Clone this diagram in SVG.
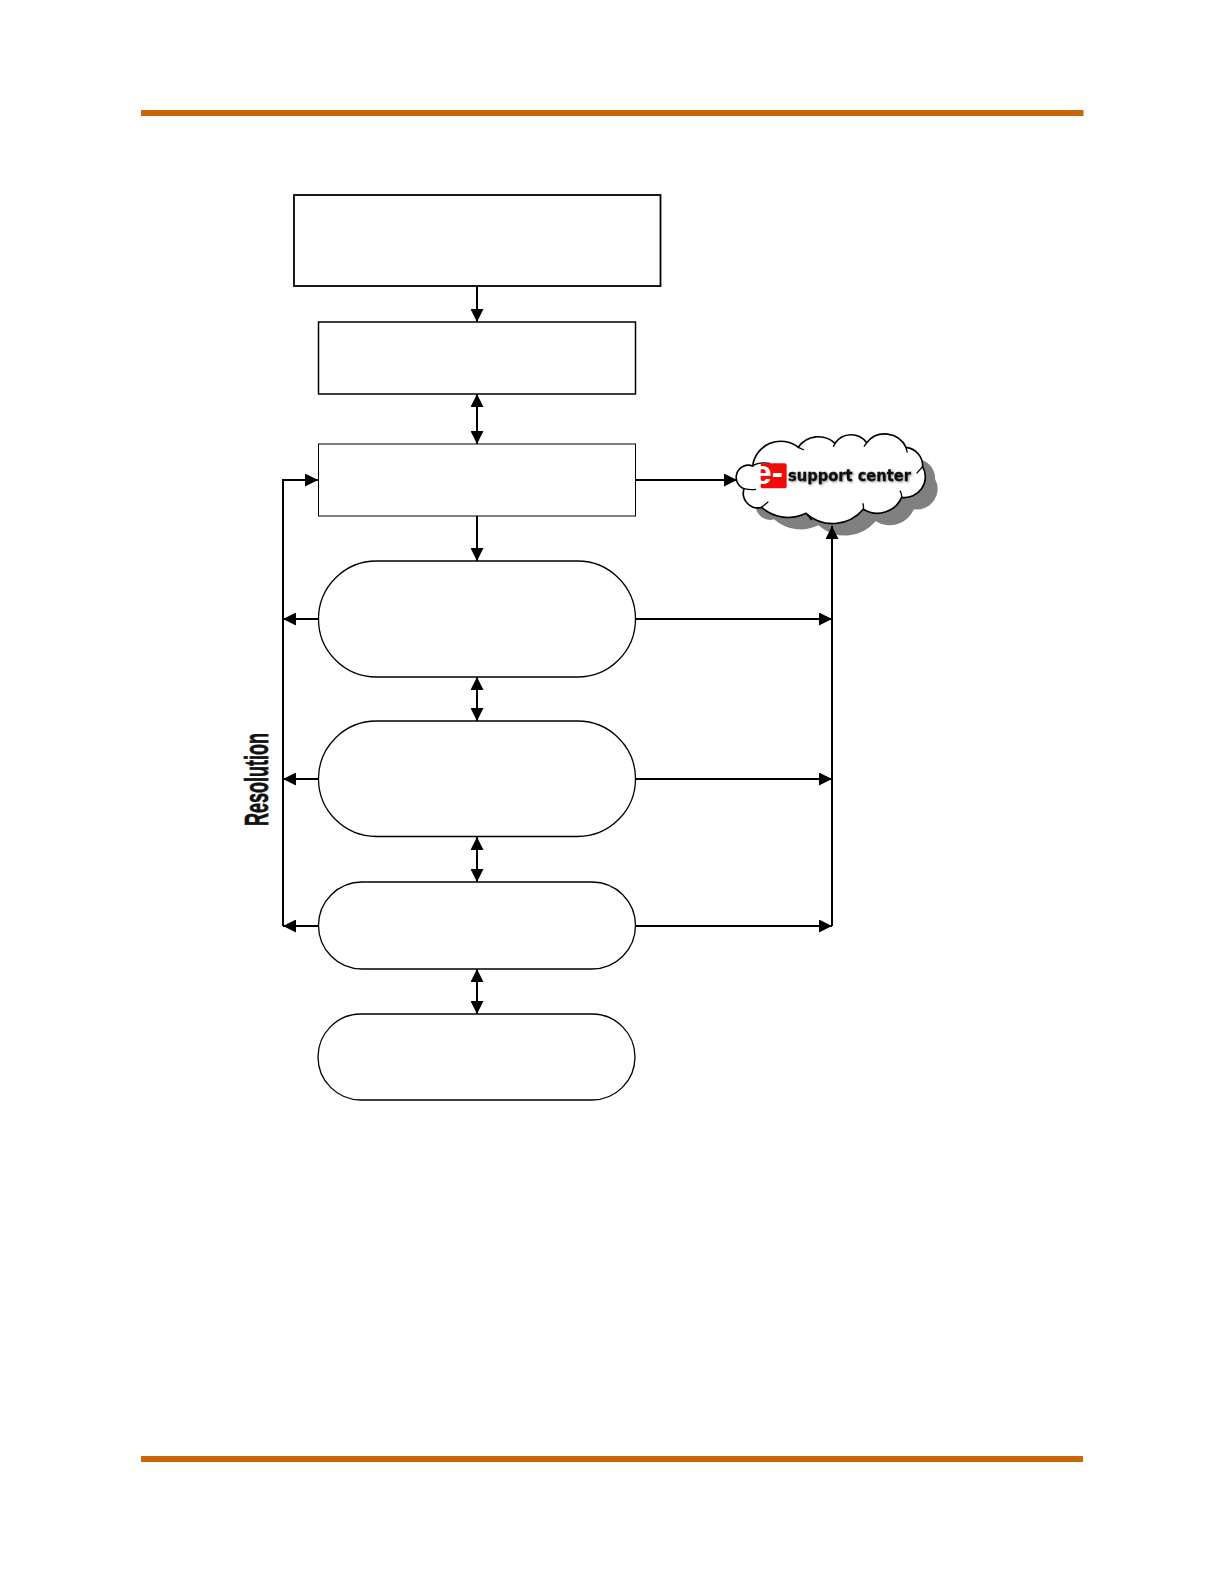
<svg xmlns="http://www.w3.org/2000/svg" width="1224" height="1584" viewBox="0 0 1224 1584">
<style>
.bar{fill:#c8660a}
.n{fill:#fff;stroke:#000}
.c{fill:none;stroke:#000;stroke-width:2}
.a{marker-end:url(#ah)}
.d{marker-start:url(#ah);marker-end:url(#ah)}
</style>
<defs>
<marker id="ah" markerUnits="userSpaceOnUse" markerWidth="13" markerHeight="13" refX="12" refY="6" orient="auto-start-reverse" viewBox="0 0 12 12"><path d="M0 0L12 6L0 12Z" fill="#000"/></marker>
<filter id="ts" x="-10%" y="-30%" width="120%" height="160%"><feDropShadow dx="1" dy="1" stdDeviation="1" flood-color="#000" flood-opacity=".45"/></filter>
<path id="cl" d="M72,206A36,36 0 0 1 98,138A85,85 0 0 1 235,82A73,73 0 0 1 345,70A58,58 0 0 1 440,68A70,70 0 0 1 558,82A56,56 0 0 1 608,140A62,62 0 0 1 545,232A80,80 0 0 1 430,268A120,120 0 0 1 258,280A120,120 0 0 1 125,262A44,44 0 0 1 72,206Z"/>
</defs>
<rect id="bg" width="1224" height="1584" fill="#fff"/>
<rect class="bar" x="141" y="110" width="942.500" height="6"/>
<rect class="bar" x="141" y="1456" width="942" height="6"/>
<g id="box1"><rect class="n" x="294" y="195" width="366.500" height="91" stroke-width="1.800"/></g>
<g id="box2"><rect class="n" x="318.500" y="322" width="317" height="72" stroke-width="1.500"/></g>
<g id="box3"><rect class="n" x="318.500" y="444" width="317" height="72" stroke-width="1"/></g>
<g id="pill1"><rect class="n" x="318.500" y="561" width="317" height="116" rx="58" stroke-width="1.300"/></g>
<g id="pill2"><rect class="n" x="318.500" y="721" width="317" height="115.500" rx="58" stroke-width="1.300"/></g>
<g id="pill3"><rect class="n" x="318.500" y="882" width="317" height="87" rx="43.500" stroke-width="1.300"/></g>
<g id="pill4"><rect class="n" x="318" y="1014" width="317" height="86" rx="43" stroke-width="1.300"/></g>
<g id="cloud">
<g transform="translate(720 420) scale(.3333)">
<use href="#cl" x="37" y="36" fill="#808080"/>
<use href="#cl" fill="#fff" stroke="#000" stroke-width="5"/>
<path d="M72,206Q90,210 108,208M98,138Q115,125 150,130M235,82L252,90M345,70L340,80M440,68L432,80M558,82L562,98M608,140L590,160M545,232Q546,222 540,212M430,268Q432,258 428,250M258,280L275,300M125,262L145,245" fill="none" stroke="#000" stroke-width="4"/>
<rect x="122" y="130" width="78" height="75" rx="5" fill="#f00a0a"/>
</g>
<text x="768" y="484" text-anchor="middle" font-family="Liberation Sans, sans-serif" font-weight="700" font-size="33" fill="#fff" textLength="30" lengthAdjust="spacingAndGlyphs">e-</text>
<text x="788" y="481" font-family="DejaVu Sans, sans-serif" font-weight="700" font-size="15" fill="#111" stroke="#111" stroke-width=".3" textLength="123" lengthAdjust="spacingAndGlyphs" filter="url(#ts)">support center</text>
</g>
<g id="connectors">
<path class="c a" d="M477 286V322"/>
<path class="c d" d="M477 394V444"/>
<path class="c a" d="M636 480H737"/>
<path class="c a" d="M477 516V561"/>
<path class="c d" d="M477 677V721"/>
<path class="c d" d="M477 837V882"/>
<path class="c d" d="M477 969V1014"/>
<path class="c a" d="M283 926V480H318"/>
<path class="c a" d="M318 619H283"/>
<path class="c a" d="M318 779H283"/>
<path class="c a" d="M318 926H283"/>
<path class="c a" d="M636 619H832"/>
<path class="c a" d="M636 779H832"/>
<path class="c a" d="M636 926H832"/>
<path class="c a" d="M832 926V526"/>
</g>
<text id="resolution" transform="translate(268 826) rotate(-90)" font-family="Liberation Sans, sans-serif" font-weight="700" font-size="33" fill="#111" stroke="#111" stroke-width=".7" textLength="93" lengthAdjust="spacingAndGlyphs">Resolution</text>
</svg>
